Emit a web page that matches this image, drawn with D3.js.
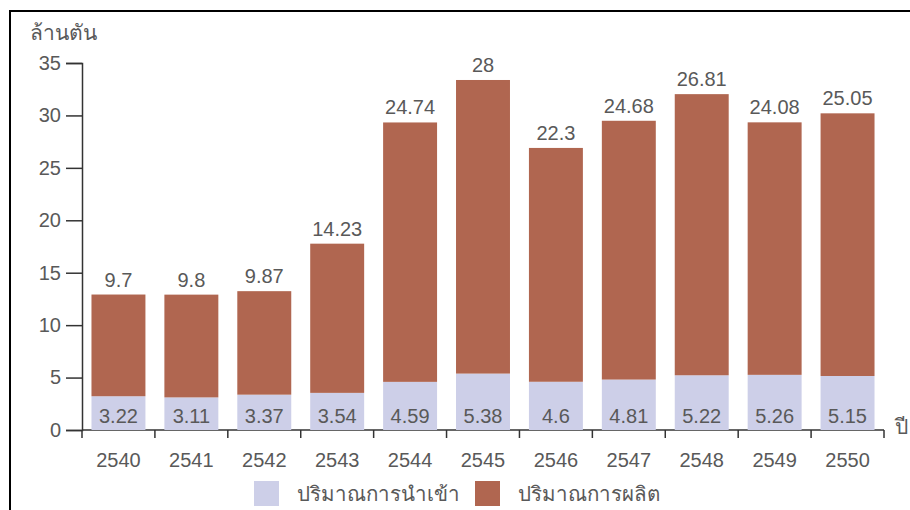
<!DOCTYPE html>
<html>
<head>
<meta charset="utf-8">
<script src="https://cdn.jsdelivr.net/npm/d3@7"></script>
<style>
  body { margin: 0; background: #fff; }
  svg text { font-family: "Liberation Sans", Arial, sans-serif; fill: #595959; }
</style>
</head>
<body>
<div id="chart"></div>
<script>
// values (ล้านตัน)
const years = ["2540", "2541", "2542", "2543", "2544", "2545", "2546", "2547", "2548", "2549", "2550"];
const imported = [3.22, 3.11, 3.37, 3.54, 4.59, 5.38, 4.6, 4.81, 5.22, 5.26, 5.15];
const produced = [9.7, 9.8, 9.87, 14.23, 24.74, 28, 22.3, 24.68, 26.81, 24.08, 25.05];
const yTicks = [0, 5, 10, 15, 20, 25, 30, 35];
const seriesNames = ["ปริมาณการนำเข้า", "ปริมาณการผลิต"];
const colors = ["#cdcfe8", "#b06650"];

const width = 910;
const height = 510;
const margin = {left: 82, right: 26, top: 63, bottom: 80};

const svg = d3.select("#chart")
  .append("svg")
  .attr("width", width)
  .attr("height", height);

// frame
svg.append("path")
  .attr("d", `M10,${height} V11 H${width}`)
  .attr("fill", "none")
  .attr("stroke", "#000")
  .attr("stroke-width", 2);

const x = d3.scaleBand()
  .domain(years)
  .range([margin.left, width - margin.right])
  .paddingInner(0.26)
  .paddingOuter(0.13);

const y = d3.scaleLinear()
  .domain([0, 35])
  .range([height - margin.bottom, margin.top]);

// y axis
const yAxis = svg.append("g")
  .attr("transform", `translate(${margin.left},0)`)
  .call(d3.axisLeft(y).tickValues(yTicks).tickSize(16).tickPadding(5));
yAxis.selectAll("text").attr("font-size", "20px").style("fill", "#595959");
yAxis.selectAll("line, path").attr("stroke", "#333").attr("stroke-width", 1.5);

// x axis, ticks at band edges
const xAxis = svg.append("g")
  .attr("transform", `translate(0,${height - margin.bottom})`);
xAxis.append("line")
  .attr("x1", margin.left).attr("x2", width - margin.right)
  .attr("stroke", "#333").attr("stroke-width", 1.5);
const edges = d3.range(years.length + 1).map(i => margin.left + i * (width - margin.left - margin.right) / years.length);
xAxis.selectAll(".edge")
  .data(edges)
  .enter().append("line")
  .attr("x1", d => d).attr("x2", d => d)
  .attr("y1", 0).attr("y2", 8)
  .attr("stroke", "#333").attr("stroke-width", 1.5);
xAxis.selectAll(".lbl")
  .data(years)
  .enter().append("text")
  .attr("x", d => x(d) + x.bandwidth() / 2)
  .attr("y", 37)
  .attr("text-anchor", "middle")
  .attr("font-size", "20px")
  .text(d => d);

// bars
const rows = years.map((yr, i) => ({year: yr, a: imported[i], b: produced[i]}));

svg.selectAll(".imp")
  .data(rows)
  .enter().append("rect")
  .attr("x", d => x(d.year))
  .attr("y", d => y(d.a))
  .attr("width", x.bandwidth())
  .attr("height", d => y(0) - y(d.a))
  .attr("fill", colors[0]);

svg.selectAll(".prod")
  .data(rows)
  .enter().append("rect")
  .attr("x", d => x(d.year))
  .attr("y", d => y(d.a + d.b))
  .attr("width", x.bandwidth())
  .attr("height", d => y(d.a) - y(d.a + d.b))
  .attr("fill", colors[1]);

// value labels
svg.selectAll(".impLbl")
  .data(rows)
  .enter().append("text")
  .attr("x", d => x(d.year) + x.bandwidth() / 2)
  .attr("y", y(0) - 7)
  .attr("text-anchor", "middle")
  .attr("font-size", "20px")
  .text(d => d.a);

svg.selectAll(".prodLbl")
  .data(rows)
  .enter().append("text")
  .attr("x", d => x(d.year) + x.bandwidth() / 2)
  .attr("y", d => y(d.a + d.b) - 8)
  .attr("text-anchor", "middle")
  .attr("font-size", "20px")
  .text(d => d.b);

// axis titles
svg.append("text")
  .attr("x", 30).attr("y", 40)
  .attr("font-size", "21px")
  .text("ล้านตัน");
svg.append("text")
  .attr("x", 895).attr("y", 434)
  .attr("font-size", "21px")
  .text("ปี");

// legend
const legend = svg.append("g").attr("transform", "translate(254,481)");
const legX = [0, 221];
seriesNames.forEach((name, i) => {
  legend.append("rect")
    .attr("x", legX[i]).attr("y", 0)
    .attr("width", 25).attr("height", 25)
    .attr("fill", colors[i]);
  legend.append("text")
    .attr("x", legX[i] + 43).attr("y", 20)
    .attr("font-size", "20.5px")
    .text(name);
});
</script>
</body>
</html>
